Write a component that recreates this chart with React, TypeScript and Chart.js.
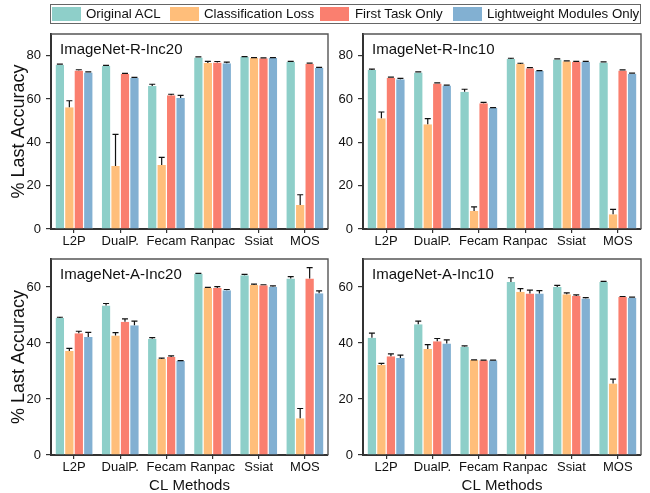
import React, { useEffect, useRef } from 'react';
import { Chart, registerables } from 'chart.js';

Chart.register(...registerables);

const FONT = '"Liberation Sans", Arial, Helvetica, sans-serif';

const methods = ['L2P', 'DualP.', 'Fecam', 'Ranpac', 'Ssiat', 'MOS'];
const seriesNames = ['Original ACL', 'Classification Loss', 'First Task Only', 'Lightweight Modules Only'];
const seriesColors = ['#8ECFC9', '#FFBE7A', '#FA7F6F', '#82B0D2'];
const yTicksTop = [0, 20, 40, 60, 80];
const yTicksBottom = [0, 20, 40, 60];

// ImageNet-R-Inc20
const rInc20Original = [75.8, 75.2, 66.0, 79.2, 79.4, 77.2];
const rInc20ClsLoss = [56.2, 29.1, 29.5, 76.6, 78.9, 11.1];
const rInc20FirstTask = [73.2, 71.5, 61.7, 76.9, 78.8, 76.3];
const rInc20Lightweight = [72.2, 69.7, 60.5, 76.5, 78.9, 74.3];
const rInc20OriginalErr = [0.3, 0.3, 0.8, 0.2, 0.2, 0.2];
const rInc20ClsLossErr = [3.0, 14.6, 3.6, 0.8, 0.2, 4.7];
const rInc20FirstTaskErr = [0.3, 0.3, 0.5, 0.4, 0.2, 0.3];
const rInc20LightweightErr = [0.3, 0.3, 1.2, 0.5, 0.2, 0.3];

// ImageNet-R-Inc10
const rInc10Original = [73.4, 72.2, 63.4, 78.5, 78.2, 76.8];
const rInc10ClsLoss = [51.1, 48.3, 8.3, 76.2, 77.4, 6.8];
const rInc10FirstTask = [69.8, 67.1, 58.0, 74.2, 77.2, 73.1];
const rInc10Lightweight = [69.1, 66.2, 55.8, 72.9, 77.2, 71.7];
const rInc10OriginalErr = [0.4, 0.3, 1.1, 0.3, 0.3, 0.3];
const rInc10ClsLossErr = [2.9, 2.6, 1.9, 0.3, 0.2, 2.3];
const rInc10FirstTaskErr = [0.3, 0.3, 0.4, 0.3, 0.2, 0.3];
const rInc10LightweightErr = [0.4, 0.2, 0.2, 0.2, 0.2, 0.2];

// ImageNet-A-Inc20
const aInc20Original = [48.9, 53.4, 41.5, 64.7, 64.2, 63.0];
const aInc20ClsLoss = [37.1, 42.7, 34.3, 59.6, 60.7, 13.1];
const aInc20FirstTask = [43.5, 47.6, 35.0, 59.6, 60.6, 63.0];
const aInc20Lightweight = [42.1, 46.3, 33.6, 58.8, 60.1, 57.8];
const aInc20OriginalErr = [0.3, 0.7, 0.4, 0.2, 0.3, 0.7];
const aInc20ClsLossErr = [1.0, 1.0, 0.3, 0.3, 0.3, 3.5];
const aInc20FirstTaskErr = [0.7, 1.0, 0.4, 0.5, 0.2, 3.9];
const aInc20LightweightErr = [1.7, 1.5, 0.1, 0.3, 0.3, 0.8];

// ImageNet-A-Inc10
const aInc10Original = [41.9, 46.7, 38.7, 61.8, 60.0, 61.8];
const aInc10ClsLoss = [32.2, 37.9, 33.9, 58.3, 57.4, 25.5];
const aInc10FirstTask = [35.3, 40.6, 33.8, 57.7, 56.8, 56.4];
const aInc10Lightweight = [34.6, 39.8, 33.8, 57.7, 55.9, 56.2];
const aInc10OriginalErr = [1.6, 1.1, 0.3, 1.5, 0.6, 0.2];
const aInc10ClsLossErr = [0.5, 1.5, 0.1, 1.1, 0.5, 1.6];
const aInc10FirstTaskErr = [0.8, 1.0, 0.1, 1.2, 0.4, 0.2];
const aInc10LightweightErr = [1.1, 1.3, 0.1, 1.0, 0.3, 0.2];

type Panel = {
  title: string;
  values: number[][];
  errors: number[][];
  yMax: number;
  yTicks: number[];
  left: number;
  right: number;
  top: number;
  bottom: number;
  yAxisWidth: number;
  xAxisHeight: number;
  yTitle: boolean;
  xTitle: boolean;
};

const W = 650;
const H = 493;

const panels: Panel[] = [
  {
    title: 'ImageNet-R-Inc20',
    values: [rInc20Original, rInc20ClsLoss, rInc20FirstTask, rInc20Lightweight],
    errors: [rInc20OriginalErr, rInc20ClsLossErr, rInc20FirstTaskErr, rInc20LightweightErr],
    yMax: 90, yTicks: yTicksTop,
    left: 51, right: 328, top: 34, bottom: 229, yAxisWidth: 51, xAxisHeight: 20,
    yTitle: true, xTitle: false,
  },
  {
    title: 'ImageNet-R-Inc10',
    values: [rInc10Original, rInc10ClsLoss, rInc10FirstTask, rInc10Lightweight],
    errors: [rInc10OriginalErr, rInc10ClsLossErr, rInc10FirstTaskErr, rInc10LightweightErr],
    yMax: 90, yTicks: yTicksTop,
    left: 363, right: 641, top: 34, bottom: 229, yAxisWidth: 40, xAxisHeight: 20,
    yTitle: false, xTitle: false,
  },
  {
    title: 'ImageNet-A-Inc20',
    values: [aInc20Original, aInc20ClsLoss, aInc20FirstTask, aInc20Lightweight],
    errors: [aInc20OriginalErr, aInc20ClsLossErr, aInc20FirstTaskErr, aInc20LightweightErr],
    yMax: 70, yTicks: yTicksBottom,
    left: 51, right: 328, top: 259, bottom: 455, yAxisWidth: 51, xAxisHeight: 38,
    yTitle: true, xTitle: true,
  },
  {
    title: 'ImageNet-A-Inc10',
    values: [aInc10Original, aInc10ClsLoss, aInc10FirstTask, aInc10Lightweight],
    errors: [aInc10OriginalErr, aInc10ClsLossErr, aInc10FirstTaskErr, aInc10LightweightErr],
    yMax: 70, yTicks: yTicksBottom,
    left: 363, right: 641, top: 259, bottom: 455, yAxisWidth: 40, xAxisHeight: 38,
    yTitle: false, xTitle: true,
  },
];

const extrasPlugin = {
  id: 'extras',
  afterDatasetsDraw(chart: any, _args: any, opts: any) {
    const { ctx, chartArea, scales } = chart;
    const yScale = scales.y;
    ctx.save();
    // error bars (upper half)
    ctx.strokeStyle = '#111';
    ctx.lineWidth = 1.2;
    chart.data.datasets.forEach((ds: any, di: number) => {
      const meta = chart.getDatasetMeta(di);
      meta.data.forEach((bar: any, i: number) => {
        const v = ds.data[i];
        const e = ds.errors ? ds.errors[i] : 0;
        const x = bar.x;
        const y0 = yScale.getPixelForValue(v);
        const y1 = yScale.getPixelForValue(v + e);
        ctx.beginPath();
        ctx.moveTo(x, y0);
        ctx.lineTo(x, y1);
        ctx.moveTo(x - 3, y1);
        ctx.lineTo(x + 3, y1);
        ctx.stroke();
      });
    });
    // top & right frame
    ctx.strokeStyle = '#555';
    ctx.lineWidth = 1.4;
    ctx.beginPath();
    ctx.moveTo(chartArea.left, chartArea.top);
    ctx.lineTo(chartArea.right, chartArea.top);
    ctx.lineTo(chartArea.right, chartArea.bottom);
    ctx.stroke();
    // panel title
    ctx.fillStyle = '#111';
    ctx.font = `15px ${FONT}`;
    ctx.textBaseline = 'alphabetic';
    ctx.textAlign = 'left';
    ctx.fillText(opts.title, chartArea.left + 9, chartArea.top + 19.5);
    ctx.restore();
  },
};

function ChartPanel({ p }: { p: Panel }) {
  const ref = useRef<HTMLCanvasElement | null>(null);
  useEffect(() => {
    const canvas = ref.current;
    if (!canvas) return;
    const chart = new Chart(canvas, {
      type: 'bar',
      data: {
        labels: methods,
        datasets: p.values.map((vals, i) => ({
          label: seriesNames[i],
          data: vals,
          errors: p.errors[i],
          backgroundColor: seriesColors[i],
          borderColor: 'rgba(255,255,255,0.75)',
          borderWidth: { left: 0.6, right: 0.6, top: 0, bottom: 0 },
          borderSkipped: 'bottom',
          categoryPercentage: 0.82,
          barPercentage: 1,
        })) as any,
      },
      options: {
        responsive: false,
        animation: false,
        devicePixelRatio: 1,
        layout: {
          padding: {
            left: p.left - p.yAxisWidth,
            right: W - p.right,
            top: p.top,
            bottom: H - p.bottom - p.xAxisHeight,
          },
        },
        plugins: {
          legend: { display: false },
          tooltip: { enabled: false },
          extras: { title: p.title },
        } as any,
        scales: {
          x: {
            type: 'category',
            offset: true,
            grid: {
              display: true,
              offset: false,
              drawOnChartArea: false,
              drawTicks: true,
              tickLength: 4,
              color: '#333',
              lineWidth: 1.2,
            },
            border: { display: true, color: '#333', width: 2 },
            ticks: {
              color: '#111',
              font: { family: FONT, size: 13 },
              padding: 1,
              maxRotation: 0,
              autoSkip: false,
            },
            title: {
              display: p.xTitle,
              text: 'CL Methods',
              color: '#111',
              font: { family: FONT, size: 15, lineHeight: 1 },
              padding: { top: 0, bottom: 0 },
            },
            afterFit: (s: any) => {
              s.height = p.xAxisHeight;
            },
          },
          y: {
            min: 0,
            max: p.yMax,
            grid: {
              display: true,
              drawOnChartArea: false,
              drawTicks: true,
              tickLength: 5,
              color: '#333',
              lineWidth: 1.2,
            },
            border: { display: true, color: '#333', width: 2 },
            ticks: {
              color: '#111',
              font: { family: FONT, size: 13 },
              padding: 5,
            },
            afterBuildTicks: (s: any) => {
              s.ticks = p.yTicks.map((v) => ({ value: v }));
            },
            title: {
              display: p.yTitle,
              text: '% Last Accuracy',
              color: '#111',
              font: { family: FONT, size: 18, lineHeight: 1.2 },
              padding: { top: 8.5, bottom: 0 },
            },
            afterFit: (s: any) => {
              s.width = p.yAxisWidth;
            },
          },
        },
      } as any,
      plugins: [extrasPlugin],
    });
    return () => chart.destroy();
  }, [p]);
  return (
    <canvas
      ref={ref}
      width={W}
      height={H}
      style={{ position: 'absolute', left: 0, top: 0, width: W, height: H }}
    />
  );
}

const legendPatchLefts = [52, 170, 320, 453];
const legendTextLefts = [86, 204, 355, 487];

export default function App() {
  return (
    <div
      style={{
        position: 'absolute',
        left: 0,
        top: 0,
        width: W,
        height: H,
        background: '#fff',
        fontFamily: FONT,
        overflow: 'hidden',
      }}
    >
      {panels.map((p) => (
        <ChartPanel key={p.title} p={p} />
      ))}
      <div
        style={{
          position: 'absolute',
          left: 50,
          top: 4,
          width: 591,
          height: 20,
          border: '1px solid #666',
          boxSizing: 'border-box',
        }}
      />
      {seriesNames.map((name, i) => (
        <React.Fragment key={name}>
          <div
            style={{
              position: 'absolute',
              left: legendPatchLefts[i],
              top: 7,
              width: 29,
              height: 14,
              background: seriesColors[i],
            }}
          />
          <div
            style={{
              position: 'absolute',
              left: legendTextLefts[i],
              top: 4,
              height: 20,
              lineHeight: '20px',
              fontSize: 13.3,
              color: '#111',
              whiteSpace: 'nowrap',
            }}
          >
            {name}
          </div>
        </React.Fragment>
      ))}
    </div>
  );
}
